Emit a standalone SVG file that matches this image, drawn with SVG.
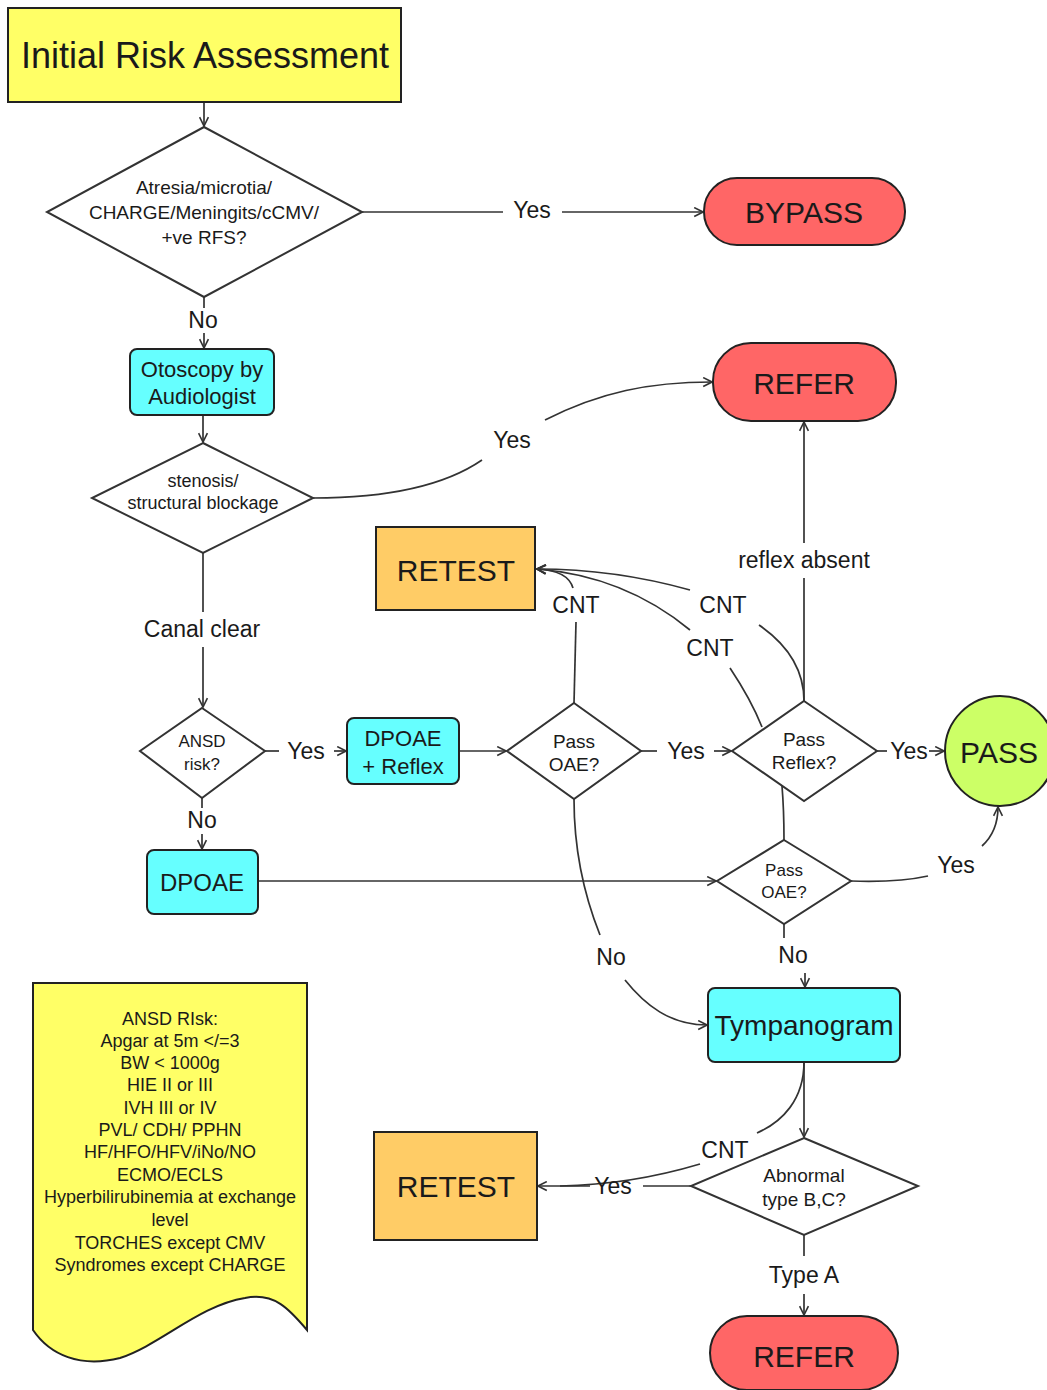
<svg xmlns="http://www.w3.org/2000/svg" width="1047" height="1390" viewBox="0 0 1047 1390">
<style>
text{font-family:"Liberation Sans",Arial,sans-serif;fill:#1a1a1a;text-anchor:middle;dominant-baseline:central}
.box{stroke:#222;stroke-width:2}
.dia{fill:#fff;stroke:#333;stroke-width:2}
.yel{fill:#ffff66}.red{fill:#ff6666}.cyan{fill:#66ffff}.org{fill:#ffcc66}.grn{fill:#ccff66}
.e{fill:none;stroke:#333;stroke-width:1.7}
.lbl{font-size:23px}
.big{font-size:30px}
.dt{font-size:19px}
</style>
<defs>
<marker id="ah" viewBox="0 0 10 10" refX="9" refY="5" markerWidth="11" markerHeight="11" markerUnits="userSpaceOnUse" orient="auto">
<path d="M1,1 L9,5 L1,9" fill="none" stroke="#333" stroke-width="1.5"/>
</marker>
</defs>

<g id="connectors">
<path class="e" d="M204,102 V126" marker-end="url(#ah)"/>
<path class="e" d="M362,212 H503"/><path class="e" d="M562,212 H703" marker-end="url(#ah)"/>
<text class="lbl" x="532" y="210">Yes</text>
<path class="e" d="M204,297 V308"/><path class="e" d="M204,333 V348" marker-end="url(#ah)"/>
<text class="lbl" x="203" y="320">No</text>
<path class="e" d="M203,415 V442" marker-end="url(#ah)"/>
<path class="e" d="M313,498 C400,498 450,482 482,460"/>
<path class="e" d="M545,420 C600,392 650,382 712,382" marker-end="url(#ah)"/>
<text class="lbl" x="512" y="440">Yes</text>
<path class="e" d="M203,553 V612"/><path class="e" d="M203,647 V707" marker-end="url(#ah)"/>
<text class="lbl" x="202" y="629">Canal clear</text>
<path class="e" d="M265,751 H279"/><path class="e" d="M334,751 H346" marker-end="url(#ah)"/>
<text class="lbl" x="306" y="751">Yes</text>
<path class="e" d="M202,798 V808"/><path class="e" d="M202,834 V849" marker-end="url(#ah)"/>
<text class="lbl" x="202" y="820">No</text>
<path class="e" d="M459,751 H506" marker-end="url(#ah)"/>
<path class="e" d="M641,751 H657"/><path class="e" d="M714,751 H731" marker-end="url(#ah)"/>
<text class="lbl" x="686" y="751">Yes</text>
<path class="e" d="M877,751 H887"/><path class="e" d="M929,751 H944" marker-end="url(#ah)"/>
<text class="lbl" x="909" y="751">Yes</text>
<path class="e" d="M804,701 V578"/><path class="e" d="M804,543 V422" marker-end="url(#ah)"/>
<text class="lbl" x="804" y="560">reflex absent</text>
<path class="e" d="M574,703 L576,622"/>
<path class="e" d="M573,588 C570,578 560,570 537,569" marker-end="url(#ah)"/>
<text class="lbl" x="576" y="605">CNT</text>
<path class="e" d="M804,701 C804,670 788,645 759,625"/>
<path class="e" d="M690,590 C640,576 585,569 537,569" marker-end="url(#ah)"/>
<text class="lbl" x="723" y="605">CNT</text>
<path class="e" d="M762,727 C752,702 742,686 730,668"/>
<path class="e" d="M690,630 C650,597 600,574 537,569" marker-end="url(#ah)"/>
<text class="lbl" x="710" y="648">CNT</text>
<path class="e" d="M782,786 C784,810 784,825 784,840"/>
<path class="e" d="M258,881 H716" marker-end="url(#ah)"/>
<path class="e" d="M851,881 C880,882 910,880 928,876"/>
<path class="e" d="M982,846 C993,836 998,822 998,807" marker-end="url(#ah)"/>
<text class="lbl" x="956" y="865">Yes</text>
<path class="e" d="M784,924 V938"/><path class="e" d="M805,973 V987" marker-end="url(#ah)"/>
<text class="lbl" x="793" y="955">No</text>
<path class="e" d="M574,799 C574,860 588,905 600,935"/>
<path class="e" d="M625,980 C645,1005 670,1025 707,1025" marker-end="url(#ah)"/>
<text class="lbl" x="611" y="957">No</text>
<path class="e" d="M804,1062 V1137" marker-end="url(#ah)"/>
<path class="e" d="M804,1062 C804,1100 782,1122 757,1133"/>
<path class="e" d="M700,1164 C660,1176 610,1185 560,1186"/>
<text class="lbl" x="725" y="1150">CNT</text>
<path class="e" d="M691,1186 H643"/><path class="e" d="M590,1186 H538" marker-end="url(#ah)"/>
<text class="lbl" x="613" y="1186">Yes</text>
<path class="e" d="M804,1235 V1256"/><path class="e" d="M804,1294 V1315" marker-end="url(#ah)"/>
<text class="lbl" x="804" y="1275">Type A</text>
</g>

<g id="initial">
<rect class="box yel" x="8" y="8" width="393" height="94"/>
<text x="205" y="55" style="font-size:36px">Initial Risk Assessment</text>
</g>
<g id="d-atresia">
<polygon class="dia" points="204,127 362,212 204,297 47,212"/>
<text class="dt" x="204" y="187">Atresia/microtia/</text>
<text class="dt" x="204" y="212">CHARGE/Meningits/cCMV/</text>
<text class="dt" x="204" y="237">+ve RFS?</text>
</g>
<g id="bypass">
<rect class="box red" x="704" y="178" width="201" height="67" rx="33"/>
<text class="big" x="804" y="212">BYPASS</text>
</g>
<g id="otoscopy">
<rect class="box cyan" x="130" y="349" width="144" height="66" rx="7"/>
<text x="202" y="369" style="font-size:22px">Otoscopy by</text>
<text x="202" y="396" style="font-size:22px">Audiologist</text>
</g>
<g id="d-stenosis">
<polygon class="dia" points="203,443 313,498 203,553 92,498"/>
<text x="203" y="481" style="font-size:18px">stenosis/</text>
<text x="203" y="503" style="font-size:18px">structural blockage</text>
</g>
<g id="refer-top">
<rect class="box red" x="713" y="343" width="183" height="78" rx="38"/>
<text class="big" x="804" y="383">REFER</text>
</g>
<g id="retest-top">
<rect class="box org" x="376" y="527" width="159" height="83"/>
<text class="big" x="456" y="570">RETEST</text>
</g>
<g id="d-ansd">
<polygon class="dia" points="202,708 265,751 202,798 140,751"/>
<text x="202" y="741" style="font-size:17px">ANSD</text>
<text x="202" y="764" style="font-size:17px">risk?</text>
</g>
<g id="dpoae-reflex">
<rect class="box cyan" x="347" y="718" width="112" height="66" rx="7"/>
<text x="403" y="738" style="font-size:22px">DPOAE</text>
<text x="403" y="766" style="font-size:22px">+ Reflex</text>
</g>
<g id="d-passoae1">
<polygon class="dia" points="574,703 641,751 574,799 507,751"/>
<text class="dt" x="574" y="741">Pass</text>
<text class="dt" x="574" y="764">OAE?</text>
</g>
<g id="d-passreflex">
<polygon class="dia" points="804,701 877,751 804,801 732,751"/>
<text class="dt" x="804" y="739">Pass</text>
<text class="dt" x="804" y="762">Reflex?</text>
</g>
<g id="pass">
<circle class="box grn" cx="1000" cy="751" r="55"/>
<text class="big" x="999" y="752">PASS</text>
</g>
<g id="dpoae">
<rect class="box cyan" x="147" y="850" width="111" height="64" rx="7"/>
<text x="202" y="882" style="font-size:24px">DPOAE</text>
</g>
<g id="d-passoae2">
<polygon class="dia" points="784,840 851,881 784,924 717,881"/>
<text x="784" y="870" style="font-size:17px">Pass</text>
<text x="784" y="892" style="font-size:17px">OAE?</text>
</g>
<g id="tympanogram">
<rect class="box cyan" x="708" y="988" width="192" height="74" rx="7"/>
<text x="804" y="1025" style="font-size:28px">Tympanogram</text>
</g>
<g id="d-abnormal">
<polygon class="dia" points="804,1138 918,1186 804,1235 691,1186"/>
<text class="dt" x="804" y="1175">Abnormal</text>
<text class="dt" x="804" y="1199">type B,C?</text>
</g>
<g id="retest-bottom">
<rect class="box org" x="374" y="1132" width="163" height="108"/>
<text class="big" x="456" y="1186">RETEST</text>
</g>
<g id="refer-bottom">
<rect class="box red" x="710" y="1316" width="188" height="74" rx="37"/>
<text class="big" x="804" y="1356">REFER</text>
</g>
<g id="note">
<path class="box yel" d="M33,983 H307 V1330 C290,1310 275,1292 245,1298 C200,1305 160,1345 120,1358 C80,1368 50,1355 33,1330 Z"/>
<g style="font-size:18px">
<text x="170" y="1019">ANSD RIsk:</text>
<text x="170" y="1041">Apgar at 5m &lt;/=3</text>
<text x="170" y="1063">BW &lt; 1000g</text>
<text x="170" y="1085">HIE II or III</text>
<text x="170" y="1108">IVH III or IV</text>
<text x="170" y="1130">PVL/ CDH/ PPHN</text>
<text x="170" y="1152">HF/HFO/HFV/iNo/NO</text>
<text x="170" y="1175">ECMO/ECLS</text>
<text x="170" y="1197">Hyperbilirubinemia at exchange</text>
<text x="170" y="1220">level</text>
<text x="170" y="1243">TORCHES except CMV</text>
<text x="170" y="1265">Syndromes except CHARGE</text>
</g>
</g>
</svg>
